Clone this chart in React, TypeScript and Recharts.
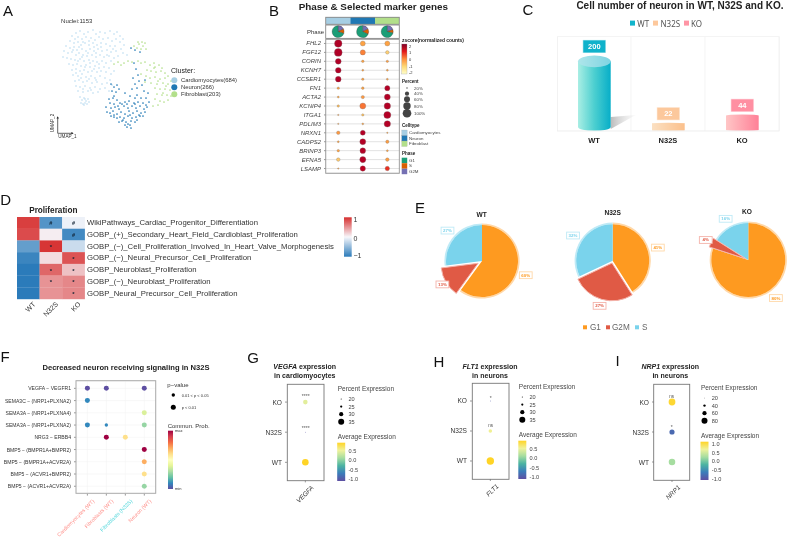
import React from 'react';
import { ScatterChart, Scatter, XAxis, YAxis, ZAxis, CartesianGrid, BarChart, Bar, Cell, PieChart, Pie, LabelList } from 'recharts';

const FONT = '"Liberation Sans", Arial, sans-serif';

// ---------- A: UMAP ----------
const cmPts = [[-2.9,4.2],[-2.5,4.4],[-2.1,4.1],[-1.7,4.3],[-1.2,4.5],[-0.9,4.1],[-0.5,4.3],[0.0,4.2],[0.5,4.4],[0.9,4.1],[1.2,4.3],[1.5,3.9],[1.8,3.6],[-3.3,3.9],[-2.7,3.8],[-2.3,3.6],[-1.9,3.8],[-1.4,3.7],[-1.0,3.5],[-0.6,3.8],[-0.2,3.6],[0.3,3.7],[0.7,3.4],[1.1,3.6],[1.5,3.3],[-3.5,3.4],[-3.1,3.2],[-2.7,3.3],[-2.4,3.0],[-2.0,3.2],[-1.6,3.0],[-1.2,3.2],[-0.8,3.0],[-0.4,3.2],[0.1,3.1],[0.5,2.9],[1.0,2.9],[1.6,2.6],[1.8,2.2],[-3.9,2.9],[-3.5,2.7],[-3.1,2.8],[-2.8,2.5],[-2.3,2.6],[-1.9,2.4],[-1.5,2.6],[-1.1,2.4],[-0.7,2.6],[-0.3,2.4],[0.2,2.5],[0.6,2.3],[1.1,2.4],[-4.1,2.4],[-3.7,2.2],[-3.3,2.3],[-2.9,2.0],[-2.6,2.2],[-2.2,2.0],[-1.8,1.9],[-1.3,2.0],[-0.9,1.8],[-0.5,2.0],[-0.1,1.8],[0.4,1.9],[0.9,1.7],[1.3,1.9],[-4.2,1.8],[-3.8,1.7],[-3.4,1.6],[-3.0,1.5],[-2.5,1.6],[-2.1,1.4],[-1.6,1.5],[-1.2,1.4],[-0.8,1.3],[-0.3,1.4],[0.1,1.2],[0.6,1.4],[-3.6,1.1],[-3.2,1.0],[-2.8,1.1],[-2.4,0.9],[-1.9,1.0],[-1.5,0.8],[-1.0,0.9],[-0.6,0.7],[-0.1,0.8],[0.4,0.7],[-3.3,0.5],[-2.9,0.6],[-2.5,0.4],[-2.1,0.5],[-1.7,0.3],[-1.3,0.4],[-0.8,0.3],[-0.4,0.4],[0.1,0.3],[0.6,0.1],[-3.2,0.0],[-2.7,-0.1],[-2.3,0.1],[-1.9,-0.2],[-1.4,-0.1],[-1.0,-0.3],[-0.5,-0.1],[0.0,-0.3],[0.5,-0.5],[-3.0,-0.6],[-2.6,-0.5],[-2.2,-0.7],[-1.8,-0.6],[-1.3,-0.8],[-0.8,-0.7],[-0.3,-0.9],[0.2,-0.8],[0.7,-1.0],[-2.9,-1.1],[-2.5,-1.2],[-2.0,-1.1],[-1.5,-1.3],[-1.0,-1.2],[-0.5,-1.4],[0.0,-1.3],[0.4,-1.6],[-2.7,-1.6],[-2.2,-1.7],[-1.7,-1.6],[-1.2,-1.8],[-0.7,-1.7],[-2.5,-2.2],[-2.3,-2.5],[-2.1,-2.3],[-1.9,-2.6],[-1.7,-2.4],[-2.4,-2.8],[-2.2,-2.9],[-2.0,-2.8],[-1.8,-2.9],[-1.6,-2.7],[-2.1,-3.0],[-2.0,-2.4],[-3.0,3.6],[-2.2,3.3],[-1.6,3.4],[-1.1,2.8],[-0.4,2.8],[-2.6,2.8],[-3.2,2.5],[-1.7,2.2],[-0.9,2.2],[-2.3,1.8],[-1.5,1.2],[-2.7,1.4],[-2.0,0.8],[-0.6,1.1],[-1.1,0.6],[-2.9,0.2],[-1.6,-0.4],[-2.4,-0.3],[-0.9,-0.5],[-2.2,-1.4],[-1.4,-1.5],[0.2,2.0],[0.8,2.6],[1.9,3.0],[2.2,2.0],[0.9,0.4]];
const nePts = [[2.6,2.7],[3.0,2.5],[3.5,2.3],[2.9,1.2],[3.1,0.6],[3.3,0.0],[2.8,-0.3],[3.0,-0.9],[3.4,-0.6],[2.7,-1.4],[3.2,-1.3],[3.7,-1.0],[3.9,-1.6],[4.3,-1.8],[4.0,-0.5],[0.6,-0.9],[0.9,-1.2],[1.2,-1.0],[0.7,-1.6],[1.1,-1.7],[0.9,-2.1],[1.4,-1.4],[2.0,-1.8],[2.5,-2.1],[3.0,-2.3],[3.6,-2.3],[3.2,-2.0],[4.1,-2.3],[4.4,-2.7],[0.4,-2.4],[0.8,-2.3],[1.2,-2.5],[0.5,-2.8],[0.9,-2.9],[1.5,-2.8],[2.0,-2.7],[2.4,-2.6],[2.9,-2.8],[3.3,-2.7],[3.8,-2.8],[4.1,-3.0],[0.1,-3.2],[0.6,-3.3],[1.0,-3.2],[1.4,-3.4],[1.9,-3.1],[2.3,-3.3],[2.7,-3.1],[3.1,-3.3],[3.5,-3.1],[3.9,-3.4],[4.2,-3.2],[0.2,-3.7],[0.5,-3.8],[0.8,-3.6],[1.2,-3.9],[1.6,-3.7],[2.0,-3.9],[2.4,-3.6],[2.8,-3.8],[3.2,-3.6],[3.6,-3.8],[4.0,-3.7],[0.6,-4.1],[0.9,-4.2],[1.2,-4.3],[1.5,-4.2],[1.9,-4.3],[2.3,-4.1],[2.7,-4.3],[3.1,-4.2],[3.5,-4.1],[3.8,-4.1],[1.4,-4.7],[1.7,-4.6],[2.1,-4.7],[2.6,-4.6],[3.0,-4.7],[2.0,-5.0],[2.2,-5.2],[2.5,-5.0],[2.6,-5.3],[2.3,-4.9],[1.7,-2.9],[2.2,-2.9],[2.5,-4.0],[3.4,-4.0],[3.0,-2.9],[1.3,-3.1],[0.9,-4.0],[1.8,-4.5],[3.2,-4.5]];
const fiPts = [[2.9,2.9],[3.2,2.7],[3.4,3.1],[3.6,2.6],[3.8,2.9],[4.0,3.2],[3.3,3.3],[3.7,3.3],[4.1,2.6],[0.9,1.1],[1.3,1.3],[1.6,1.0],[1.9,1.2],[2.3,1.4],[2.7,1.3],[3.3,1.4],[3.6,1.2],[4.0,1.3],[4.9,1.2],[4.5,1.0],[5.0,0.8],[5.4,1.0],[5.7,0.7],[4.2,0.5],[4.6,0.4],[5.1,0.3],[5.6,0.4],[6.0,0.2],[3.6,0.1],[4.1,-0.1],[4.5,-0.3],[5.0,-0.2],[5.5,-0.4],[6.0,-0.3],[6.3,-0.1],[4.0,-0.7],[4.6,-0.8],[5.2,-0.9],[5.8,-0.8],[6.3,-0.9],[6.6,-0.6],[5.0,-1.3],[5.5,-1.4],[6.0,-1.4],[6.5,-1.5],[6.8,-1.1],[5.2,-1.9],[5.7,-2.0],[6.2,-2.0],[6.6,-2.1],[5.0,-2.4],[5.5,-2.6],[5.9,-2.7],[6.3,-2.5],[5.3,-3.0],[4.8,-3.1],[5.8,-1.8],[4.9,0.7],[5.3,-0.6],[6.1,-1.1]];

// ---------- B: marker gene dot plot ----------
const bClusters = ['Cardiomyocytes', 'Neuron', 'Fibroblast'];
const bGenes = ['FHL2','FGF12','CORIN','KCNH7','CCSER1','FN1','ACTA2','KCNIP4','ITGA1','PDLIM3','NRXN1','CADPS2','BRINP3','EFNA5','LSAMP'];
const bPercent = [[80,46,46],[86,48,32],[56,25,24],[54,22,22],[54,24,22],[24,25,48],[22,30,58],[24,58,64],[20,24,74],[20,22,64],[32,46,20],[22,58,30],[25,54,22],[32,60,32],[20,50,40]];
const bZscore = [[2,-0.4,-0.4],[2,0.1,-1.1],[2,-0.4,-0.3],[2,-0.4,-0.4],[2,-0.4,-0.4],[-0.4,-0.4,1.9],[-0.5,-0.2,1.9],[-0.8,0.2,1.9],[-0.4,-0.9,1.9],[-0.4,-0.4,1.9],[-0.2,1.9,-0.4],[-0.4,1.9,-0.3],[-0.4,1.9,-0.4],[-1,1.9,-0.3],[-0.4,1.6,0.8]];
const phaseNames = ['G2M', 'S', 'G1'];
const phaseByCluster = [[18, 12, 70], [18, 14, 68], [20, 9, 71]];

// ---------- C: cell numbers ----------
const cGroups = ['WT', 'N32S', 'KO'];
const cCounts = [200, 22, 44];

// ---------- D: proliferation heatmap ----------
const dGroups = ['WT', 'N32S', 'KO'];
const dPathways = ['WikiPathways_Cardiac_Progenitor_Differentiation','GOBP_(+)_Secondary_Heart_Field_Cardioblast_Proliferation','GOBP_(\u2212)_Cell_Proliferation_Involved_In_Heart_Valve_Morphogenesis','GOBP_(\u2212)_Neural_Precursor_Cell_Proliferation','GOBP_Neuroblast_Proliferation','GOBP_(\u2212)_Neuroblast_Proliferation','GOBP_Neural_Precursor_Cell_Proliferation'];
const dScores = [[0.92,-0.8,-0.05],[0.86,0.05,-0.88],[-0.72,0.97,-0.22],[-0.92,0.13,0.82],[-1,0.72,0.27],[-1,0.5,0.56],[-1,0.5,0.56]];
const dMarks = [['','#','#'],['','','#'],['','*',''],['','','*'],['','*','*'],['','*','*'],['','','*']];

// ---------- E: phase pies ----------
const ePhases = ['G1', 'G2M', 'S'];
const eWT = [60, 13, 27];
const eN32S = [41, 27, 32];
const eKO = [80, 4, 16];

// ---------- F: signalling ----------
const fSources = ['Cardiomyocytes (WT)', 'Fibroblasts (WT)', 'Fibroblasts (N32S)', 'Neuron (WT)'];
const fPairs = ['VEGFA \u2212 VEGFR1','SEMA3C \u2212 (NRP1+PLXNA2)','SEMA3A \u2212 (NRP1+PLXNA4)','SEMA3A \u2212 (NRP1+PLXNA2)','NRG3 \u2212 ERBB4','BMP5 \u2212 (BMPR1A+BMPR2)','BMP5 \u2212 (BMPR1A+ACVR2A)','BMP5 \u2212 (ACVR1+BMPR2)','BMP5 \u2212 (ACVR1+ACVR2A)'];
const fPairIdx = [0,0,0,1,2,3,3,3,4,4,5,6,7,8];
const fSourceIdx = [0,1,3,0,3,0,1,3,1,2,3,3,3,3];
const fProb = [0,0,0,0.1,0.38,0.1,0.1,0.27,1,0.6,1,0.7,0.6,0.27];
const fPClass = [2,2,2,2,2,2,1,2,2,2,2,2,2,2];

// ---------- G, H, I: expression ----------
const gihGroups = ['KO', 'N32S', 'WT'];
const gPct = [28.8, 20, 38.3];
const gAvg = [0.35, -1.05, 0.8];
const hPct = [20, 25, 43];
const hAvg = [-1, 0.45, 0.8];
const iPct = [98, 65, 93];
const iAvg = [1.05, -0.85, 0.22];
const gSig = ['****', '****', ''];
const hSig = ['*', 'ns', ''];
const iSig = ['ns', '*', ''];

// ---------- colour helpers ----------
const hex = (c: string) => [1, 3, 5].map((i) => parseInt(c.slice(i, i + 2), 16));
const ramp = (stops: string[], t: number) => {
  const v = Math.max(0, Math.min(1, t)) * (stops.length - 1);
  const i = Math.min(stops.length - 2, Math.floor(v));
  const a = hex(stops[i]), b = hex(stops[i + 1]);
  const f = v - i;
  return `rgb(${a.map((x, k) => Math.round(x + (b[k] - x) * f)).join(',')})`;
};
const ylorrd = ['#FFFFCC', '#FED976', '#FD8D3C', '#E31A1C', '#800026'];
const ylorrdDots = ['#FFFFCC', '#FEE08B', '#FDB04A', '#FD8D3C', '#F03B20', '#C8001F', '#B00026'];
const spectral = ['#5E4FA2','#3288BD','#66C2A5','#ABDDA4','#E6F598','#FFFFBF','#FEE08B','#FDAE61','#F46D43','#D53E4F','#9E0142'];
const expr = ['#5E4FA2','#3B7DBA','#4BB3A2','#A6DDA0','#EFF29B','#FFD426'];
const rdbu = ['#2B7BBA','#F7F7FB','#D62F2F'];
const GrA = ({ id, stops, vertical = true }: any) => (
  <linearGradient id={id} x1="0" y1={vertical ? '1' : '0'} x2={vertical ? '0' : '1'} y2="0">
    {stops.map((s: string, i: number) => <stop key={i} offset={i / (stops.length - 1)} stopColor={s} />)}
  </linearGradient>
);

// ---------- generic pieces ----------
const T = ({ x, y, s = 6, b, i, a = 'start', c = '#222', r, f, children }: any) => (
  <text x={x} y={y} fontSize={s} fontWeight={b ? 700 : 400} fontStyle={i ? 'italic' : 'normal'} textAnchor={a} fill={c}
    dominantBaseline="central" fontFamily={f || FONT} transform={r ? `rotate(${r} ${x} ${y})` : undefined}>{children}</text>
);

const Abs = ({ left, top, children }: any) => <div style={{ position: 'absolute', left, top }}>{children}</div>;

const areaDot = (color: (p: any) => string, stroke?: string) => (p: any) => {
  const r = Math.sqrt(Math.max(p.size ?? 4, 0.2) / Math.PI);
  return <circle cx={p.cx} cy={p.cy} r={r} fill={color(p.payload)} stroke={stroke || 'none'} strokeWidth={0.3} />;
};

function Bubble({ box, yW, xH, xD, yD, xN, yN, data, zD, zR, color, stroke, yTick, xTick, grid, tickC = '#555' }: any) {
  const [x0, y0, x1, y1] = box;
  return (
    <Abs left={x0 - yW} top={y0 - 2}>
      <ScatterChart width={x1 - x0 + yW + 2} height={y1 - y0 + xH + 2} margin={{ top: 2, right: 2, bottom: 0, left: 0 }}>
        {grid}
        <XAxis type="number" dataKey="x" domain={xD} ticks={Array.from({ length: xN }, (_, i) => i)} interval={0}
          height={xH} tick={xTick} tickSize={2} tickLine={{ stroke: tickC, strokeWidth: 0.6 }} axisLine={false} allowDataOverflow />
        <YAxis type="number" dataKey="y" domain={yD} ticks={Array.from({ length: yN }, (_, i) => i)} interval={0} reversed
          width={yW} tick={yTick} tickSize={2} tickLine={{ stroke: tickC, strokeWidth: 0.6 }} axisLine={false} allowDataOverflow />
        <ZAxis type="number" dataKey="z" domain={zD} range={zR} />
        <Scatter data={data} isAnimationActive={false} shape={areaDot(color, stroke)} />
      </ScatterChart>
    </Abs>
  );
}

const leftTick = (labels: string[], opts: any = {}) => (p: any) => (
  <text x={p.x - 1} y={p.y} textAnchor="end" dominantBaseline="central" fontSize={opts.s || 6} fontStyle={opts.i ? 'italic' : 'normal'}
    fontFamily={FONT} fill={opts.c || '#333'}>{labels[p.payload.value]}</text>
);
const slantTick = (labels: string[], opts: any = {}) => (p: any) => {
  const x = p.x + (opts.dx ?? 4), y = p.y + (opts.dy ?? 2);
  const i = p.payload.value;
  return (
    <text x={x} y={y} textAnchor="end" dominantBaseline="central" fontSize={opts.s || 6.3} fontStyle={opts.i ? 'italic' : 'normal'}
      fontFamily={FONT} fill={opts.colors ? opts.colors[i] : opts.c || '#333'} transform={`rotate(-45 ${x} ${y})`}>{labels[i]}</text>
  );
};

// ---------- A ----------
const pts = (a: number[][]) => a.map(([x, y]) => ({ x, y }));
const umapDot = (fill: string, r: number) => (p: any) => <circle cx={p.cx} cy={p.cy} r={r} fill={fill} />;
const PanelA = () => (
  <Abs left={0} top={0}>
    <ScatterChart width={230} height={180} margin={{ top: 0, right: 0, bottom: 0, left: 0 }}>
      <XAxis type="number" dataKey="x" domain={[-10.5, 12.5]} hide />
      <YAxis type="number" dataKey="y" domain={[-10.5, 7.5]} hide />
      <Scatter data={pts(cmPts)} isAnimationActive={false} shape={umapDot('#B3D8EE', 0.8)} />
      <Scatter data={pts(nePts)} isAnimationActive={false} shape={umapDot('#1F78B4', 0.85)} />
      <Scatter data={pts(fiPts)} isAnimationActive={false} shape={umapDot('#B2DF8A', 0.85)} />
    </ScatterChart>
  </Abs>
);

// ---------- B ----------
const bData = bGenes.flatMap((_, r) => bClusters.map((__, c) => ({ x: c, y: r, z: bPercent[r][c], v: bZscore[r][c] })));
const clusterColors = ['#A6CEE3', '#1F78B4', '#B2DF8A'];
const phaseColors = ['#7570B3', '#D95F02', '#1B9E77'];
const PanelB = () => (
  <>
    <Abs left={325.7} top={17.3}>
      <BarChart width={73.6} height={7} data={bClusters.map((name) => ({ name, n: 1 }))} margin={{ top: 0, right: 0, bottom: 0, left: 0 }} barCategoryGap={0}>
        <XAxis dataKey="name" hide />
        <YAxis hide domain={[0, 1]} />
        <Bar dataKey="n" isAnimationActive={false}>
          {bClusters.map((_, i) => <Cell key={i} fill={clusterColors[i]} />)}
        </Bar>
      </BarChart>
    </Abs>
    <Abs left={325.7} top={25}>
      <PieChart width={73.6} height={13} margin={{ top: 0, right: 0, bottom: 0, left: 0 }}>
        {phaseByCluster.map((vals, c) => (
          <Pie key={c} data={vals.map((v, i) => ({ name: phaseNames[i], v }))} dataKey="v" cx={12.1 + 24.55 * c} cy={6.6} outerRadius={6}
            startAngle={90} endAngle={-270} stroke="#333" strokeWidth={0.3} isAnimationActive={false} label={false}>
            {vals.map((_, i) => <Cell key={i} fill={phaseColors[i]} />)}
          </Pie>
        ))}
      </PieChart>
    </Abs>
    <Bubble box={[325.7, 39.3, 399.3, 173.3]} yW={52} xH={4} xD={[-0.5, 2.5]} yD={[-0.5, 14.5]} xN={3} yN={15}
      data={bData} zD={[20, 100]} zR={[1.5, 58]} color={(d: any) => ramp(ylorrdDots, (d.v + 2) / 4)} stroke="#777"
      yTick={leftTick(bGenes, { i: true, s: 6, c: '#444' })} xTick={false}
      grid={<>
        <CartesianGrid horizontal stroke="#E2E2E2" strokeWidth={1} vertical={false} />
        <CartesianGrid vertical stroke="#D0D0D0" strokeWidth={0.4} horizontal={false} />
      </>} />
  </>
);

// ---------- C ----------
const cFill = ['url(#cWT)', 'url(#cN)', 'url(#cK)'];
const cBox = ['#0FB2CB', '#FCC89C', '#FF8FA2'];
const cTop = ['url(#cWTt)', 'url(#cN)', 'url(#cK)'];
const Cyl = (p: any) => {
  const { x, y, width: w, height: h, index } = p;
  const base = y + h;
  const ry = h * 0.085, rb = Math.min(4, h * 0.06), rx = w / 2;
  return (
    <g>
      {index === 0 && <path d={`M${x + w} ${base - 14} L${x + w + 25} ${base - 16} L${x + w} ${base - 2} Z`} fill="url(#cShadow)" />}
      <path d={`M${x} ${y} L${x} ${base - rb} A${rx} ${rb} 0 0 0 ${x + w} ${base - rb} L${x + w} ${y} Z`} fill={cFill[index]} />
      <ellipse cx={x + rx} cy={y} rx={rx} ry={ry} fill={cTop[index]} />
    </g>
  );
};
const CLabel = (p: any) => {
  const { x, y, width: w, value, index, height } = p;
  const ry = Math.abs(height) * 0.085;
  const cy = y - 9 - ry, cx = x + w / 2;
  return (
    <g>
      <rect x={cx - 11.5} y={cy - 6.5} width={23} height={13} fill={cBox[index]} stroke="#fff" strokeOpacity={0.6} strokeWidth={1} />
      <text x={cx} y={cy} textAnchor="middle" dominantBaseline="central" fill="#fff" fontWeight={700} fontSize={7.5} fontFamily={FONT}>{value}</text>
    </g>
  );
};
const PanelC = () => (
  <Abs left={557.3} top={36.7}>
    <BarChart width={222} height={115} data={cGroups.map((name, i) => ({ name, n: cCounts[i] }))} margin={{ top: 0, right: 0, bottom: 0, left: 0 }}>
      <CartesianGrid horizontal={false} stroke="#EFEFEF" strokeWidth={0.7}
        verticalCoordinatesGenerator={({ offset }: any) => [0, 1, 2, 3].map((k) => offset.left + (k * offset.width) / 3)} />
      <XAxis dataKey="name" height={21} axisLine={{ stroke: '#EFEFEF', strokeWidth: 0.7 }} tickLine={false}
        tick={{ fontSize: 7.5, fontWeight: 700, fill: '#222', fontFamily: FONT }} tickMargin={1} />
      <YAxis hide domain={[0, 270]} />
      <Bar dataKey="n" barSize={32.7} isAnimationActive={false} shape={Cyl}>
        <LabelList dataKey="n" content={CLabel} />
      </Bar>
    </BarChart>
  </Abs>
);

// ---------- D ----------
const dData = dPathways.flatMap((_, r) => dGroups.map((__, c) => ({ x: c, y: r, s: dScores[r][c], m: dMarks[r][c] })));
const HCell = (p: any) => {
  const w = 22.55, h = 11.72;
  const { cx, cy, payload } = p;
  return (
    <g>
      <rect x={cx - w / 2} y={cy - h / 2} width={w + 0.2} height={h + 0.2} fill={ramp(rdbu, (payload.s + 1) / 2)} />
      {payload.m && <text x={cx} y={cy + (payload.m === '*' ? 0.8 : 0)} textAnchor="middle" dominantBaseline="central" fontSize={payload.m === '*' ? 6 : 5.5} fontWeight={700}
        fontFamily={FONT} fill="#123">{payload.m}</text>}
    </g>
  );
};
const PanelD = () => (
  <Abs left={17.3} top={217.3}>
    <ScatterChart width={326.7} height={112} margin={{ top: 0, right: 0, bottom: 0, left: 0 }}>
      <XAxis type="number" dataKey="x" domain={[-0.5, 2.5]} ticks={[0, 1, 2]} interval={0} height={30} tickLine={false} axisLine={false}
        tick={slantTick(dGroups, { s: 7, dx: 6, dy: -4, c: '#333' })} />
      <YAxis type="number" dataKey="y" orientation="right" domain={[-0.5, 6.5]} ticks={[0, 1, 2, 3, 4, 5, 6]} interval={0} reversed width={259} tickLine={false} axisLine={false}
        tick={(p: any) => <text x={p.x - 5.7} y={p.y} dominantBaseline="central" fontSize={7.75} fontFamily={FONT} fill="#333">{dPathways[p.payload.value]}</text>} />
      <Scatter data={dData} isAnimationActive={false} shape={HCell} />
    </ScatterChart>
  </Abs>
);

// ---------- E ----------
const eColors = ['#FE9A20', '#E05A45', '#7AD3EC'];
const eBorder = ['#FFD8A8', '#F4B3AA', '#BFEAF6'];
const eBoxLabel = (R: number, skip: number | null) => (p: any) => {
  if (skip !== null && p.index === skip) return <g />;
  const a = (p.midAngle * Math.PI) / 180;
  const x = p.cx + Math.cos(a) * R, y = p.cy - Math.sin(a) * R;
  const idx = p.payload?.idx ?? p.index;
  return (
    <g>
      <rect x={x - 6.4} y={y - 3.4} width={12.8} height={6.8} fill="#fff" stroke={eBorder[idx]} strokeWidth={0.9} />
      <text x={x} y={y} textAnchor="middle" dominantBaseline="central" fontSize={4.4} fontWeight={700} fill={eColors[idx]} fontFamily={FONT}>{p.value}%</text>
    </g>
  );
};
function EPie({ left, top, cx, cy, r, vals, off, R }: any) {
  const total = vals[0] + vals[1] + vals[2];
  const s = 90 - (vals[0] / total) * 360, e = s - (vals[1] / total) * 360;
  const mid = (((s + e) / 2) * Math.PI) / 180;
  const dx = Math.cos(mid) * off, dy = -Math.sin(mid) * off;
  const data = ePhases.map((name, idx) => ({ name, v: vals[idx], idx }));
  const g2m = [data[1]];
  return (
    <Abs left={left} top={top}>
      <PieChart width={136} height={110} margin={{ top: 0, right: 0, bottom: 0, left: 0 }}>
        <Pie data={data} dataKey="v" cx={cx} cy={cy} innerRadius={r} outerRadius={r + 1.6} startAngle={90} endAngle={-270} stroke="none" isAnimationActive={false} label={false} labelLine={false}>
          {data.map((_, i) => <Cell key={i} fill={i === 1 ? 'transparent' : eBorder[i]} />)}
        </Pie>
        <Pie data={data} dataKey="v" cx={cx} cy={cy} outerRadius={r} startAngle={90} endAngle={-270} stroke="none" isAnimationActive={false} labelLine={false} label={eBoxLabel(R, 1)}>
          {data.map((_, i) => <Cell key={i} fill={i === 1 ? 'transparent' : eColors[i]} />)}
        </Pie>
        <Pie data={g2m} dataKey="v" cx={cx + dx} cy={cy + dy} outerRadius={r + 1.2} startAngle={s} endAngle={e} stroke={eBorder[1]} strokeWidth={1} isAnimationActive={false} labelLine={false} label={eBoxLabel(R - off, null)}>
          <Cell fill={eColors[1]} />
        </Pie>
      </PieChart>
    </Abs>
  );
}

// ---------- F ----------
const fData = fProb.map((v, i) => ({ x: fSourceIdx[i], y: fPairIdx[i], z: fPClass[i], v }));
const fTickColors = ['#FF8E88', '#FF8E88', '#4FD6DA', '#FF8E88'];

// ---------- G/H/I ----------
const exprData = (pct: number[], avg: number[]) => gihGroups.map((_, i) => ({ x: 0, y: i, z: pct[i], v: avg[i] }));
const Expr = ({ box, gene, pct, avg, zD, zR, cD }: any) => (
  <Bubble box={box} yW={34} xH={34} xD={[-0.5, 0.5]} yD={[-0.6, 2.6]} xN={1} yN={3} data={exprData(pct, avg)} zD={zD} zR={zR}
    color={(d: any) => ramp(expr, (d.v - cD[0]) / (cD[1] - cD[0]))}
    yTick={leftTick(gihGroups, { s: 6.6, c: '#333' })} xTick={slantTick([gene], { s: 6.5, i: true, dx: 7, dy: 2, c: '#333' })} />
);
const ExprLegend = ({ x, y, sizes, ticks }: any) => (
  <g>
    <T x={x} y={y} s={6.5} c="#444">Percent Expression</T>
    {sizes.map(([lab, r]: any, i: number) => (
      <g key={lab}>
        <circle cx={x + 3.5} cy={y + 10.7 + i * 7.6} r={r} fill="#000" />
        <T x={x + 10.7} y={y + 10.7 + i * 7.6} s={5.6} c="#444">{lab}</T>
      </g>
    ))}
    <T x={x} y={y + 47.7} s={6.5} c="#444">Average Expression</T>
    <rect x={x - 0.5} y={y + 54.4} width={8} height={38.3} fill="url(#exprBar)" />
    {ticks.map(([lab, dy]: any) => <T key={lab} x={x + 10.8} y={y + dy} s={5.6} c="#444">{lab}</T>)}
  </g>
);
const Sig = ({ x, items }: any) => <>{items.map(([s, y]: any, i: number) => <T key={i} x={x} y={y} s={s === 'ns' ? 4.6 : 5} a="middle" c="#555">{s}</T>)}</>;

const Frame = ({ b, c = '#777', w = 0.9 }: any) => <rect x={b[0]} y={b[1]} width={b[2] - b[0]} height={b[3] - b[1]} fill="none" stroke={c} strokeWidth={w} />;
const Key = ({ x, y, c, s = 3 }: any) => <rect x={x} y={y} width={s} height={s} fill={c} />;

export default function App() {
  return (
    <div style={{ position: 'absolute', left: 0, top: 0, width: 789, height: 537, overflow: 'hidden', background: '#fff', fontFamily: FONT, filter: 'blur(0.35px)' }}>
      <PanelA />
      <PanelB />
      <PanelC />
      <PanelD />
      <EPie left={420} top={205} cx={62} cy={56} r={36} vals={eWT} off={4.5} R={46} />
      <EPie left={550} top={205} cx={62.7} cy={55.7} r={36.5} vals={eN32S} off={2.5} R={47} />
      <EPie left={653} top={205} cx={95.3} cy={55} r={37} vals={eKO} off={3} R={47} />
      <Bubble box={[76, 380.7, 155.7, 493.3]} yW={76} xH={43.5} xD={[-0.6, 3.6]} yD={[-0.6, 8.6]} xN={4} yN={9} data={fData} zD={[1, 2]} zR={[9, 19.6]}
        color={(d: any) => ramp(spectral, d.v)} yTick={leftTick(fPairs, { s: 5.1, c: '#333' })}
        xTick={slantTick(fSources, { s: 5.2, dx: 6, dy: 2.5, colors: fTickColors })}
        grid={<CartesianGrid stroke="#F1F1F1" strokeWidth={0.5} />} />
      <Expr box={[287.3, 384.3, 324, 480.7]} gene="VEGFA" pct={gPct} avg={gAvg} zD={[20, 38.3]} zR={[0.5, 34]} cD={[-1.1, 0.8]} />
      <Expr box={[472.3, 383.3, 509, 479.3]} gene="FLT1" pct={hPct} avg={hAvg} zD={[20, 43]} zR={[0.5, 43]} cD={[-1.1, 0.8]} />
      <Expr box={[653.7, 384.3, 689.7, 480.3]} gene="NRP1" pct={iPct} avg={iAvg} zD={[20, 98]} zR={[0.3, 36]} cD={[-1.1, 1.1]} />

      <svg width={789} height={537} style={{ position: 'absolute', left: 0, top: 0, pointerEvents: 'none' }}>
        <defs>
          <GrA id="cWT" vertical={false} stops={['#A9EEE4', '#4CCFD0', '#07AEC8']} />
          <GrA id="cWTt" vertical={false} stops={['#AEE6EA', '#7FD4E2']} />
          <GrA id="cN" vertical={false} stops={['#FBE0C2', '#FBC08C']} />
          <GrA id="cK" vertical={false} stops={['#FFC6C6', '#FF8097']} />
          <linearGradient id="cShadow" x1="0" y1="0" x2="1" y2="0"><stop offset="0" stopColor="#BBB" /><stop offset="1" stopColor="#EEE" stopOpacity={0.3} /></linearGradient>
          <GrA id="zBar" stops={ylorrd} />
          <GrA id="dBar" stops={rdbu} />
          <GrA id="fBar" stops={spectral} />
          <GrA id="exprBar" stops={expr} />
        </defs>

        {/* letters */}
        {[['A', 8, 10], ['B', 274, 10.7], ['C', 528, 9.3], ['D', 5.7, 199.3], ['E', 420, 207.3], ['F', 5, 356.7], ['G', 253, 357], ['H', 439, 361], ['I', 617.7, 360.7]].map(([l, x, y]: any) =>
          <T key={l} x={x} y={y} s={15} a="middle" c="#111">{l}</T>)}

        {/* A */}
        <T x={76.7} y={20.7} s={6} a="middle" c="#333">Nuclei:1153</T>
        <T x={171} y={70.7} s={7} c="#222">Cluster:</T>
        {['Cardiomyocytes(684)', 'Neuron(266)', 'Fibroblast(203)'].map((t, i) => (
          <g key={t}>
            <circle cx={174.3} cy={80.3 + i * 7} r={3} fill={['#A6CEE3', '#1F78B4', '#B2DF8A'][i]} />
            <T x={181} y={80.3 + i * 7} s={5.9} c="#333">{t}</T>
          </g>
        ))}
        <path d="M57.7 133.3V117.5M57.7 133.3H72.5" stroke="#222" strokeWidth={0.7} fill="none" />
        <path d="M57.7 116.2l-1.2 2.2h2.4zM73.6 133.3l-2.2-1.2v2.4z" fill="#222" />
        <T x={67.5} y={136.3} s={4.6} a="middle" c="#333">UMAP_1</T>
        <T x={52.7} y={123} s={4.6} a="middle" c="#333" r={-90}>UMAP_2</T>

        {/* B */}
        <T x={373.3} y={6.7} s={9.9} b a="middle" c="#222">Phase &amp; Selected marker genes</T>
        <Frame b={[325.7, 17.3, 399.3, 24.3]} c="#888" />
        <Frame b={[325.7, 25, 399.3, 38.4]} c="#888" />
        <Frame b={[325.7, 39.3, 399.3, 173.3]} c="#999" />
        <T x={324} y={31.7} s={6} a="end" c="#333">Phase</T>
        <T x={402} y={40} s={4.9} b c="#222">zscore(normalized counts)</T>
        <rect x={401.7} y={44} width={5.3} height={30} fill="url(#zBar)" stroke="#999" strokeWidth={0.3} />
        {[['2', 46], ['1', 52.7], ['0', 59.3], ['-1', 66], ['-2', 72.7]].map(([l, y]: any) => <T key={l} x={409} y={y} s={4} c="#333">{l}</T>)}
        <T x={402} y={81} s={4.5} b c="#222">Percent</T>
        {[['20%', 88, 0.7], ['40%', 93.7, 2.1], ['60%', 99.3, 3], ['80%', 106, 3.7], ['100%', 113.3, 4.3]].map(([l, y, r]: any) => (
          <g key={l}>
            <circle cx={407} cy={y} r={r} fill="#444" />
            <T x={414} y={y} s={4.4} c="#444">{l}</T>
          </g>
        ))}
        <T x={402} y={125} s={4.5} b c="#222">Celltype</T>
        {bClusters.map((t, i) => (
          <g key={t}>
            <rect x={401.7} y={130 + i * 5.5} width={5.5} height={5.5} fill={clusterColors[i]} stroke="#999" strokeWidth={0.2} />
            <T x={409} y={132.7 + i * 5.5} s={4.4} c="#444">{t}</T>
          </g>
        ))}
        <T x={402} y={153} s={4.5} b c="#222">Phase</T>
        {['G1', 'S', 'G2M'].map((t, i) => (
          <g key={t}>
            <rect x={401.7} y={157.7 + i * 5.5} width={5.5} height={5.5} fill={['#1B9E77', '#D95F02', '#7570B3'][i]} />
            <T x={409} y={160.5 + i * 5.4} s={4.4} c="#444">{t}</T>
          </g>
        ))}

        {/* C */}
        <T x={680} y={5} s={10} b a="middle" c="#222">Cell number of neuron in WT, N32S and KO.</T>
        <Key x={630} y={20.6} c="#12B4CB" s={5} />
        <T x={637.3} y={23} s={8} c="#555" f='"Noto Sans"'>WT</T>
        <Key x={653} y={20.6} c="#FDC89C" s={5} />
        <T x={660.5} y={23} s={8} c="#555" f='"Noto Sans"'>N32S</T>
        <Key x={684} y={20.6} c="#FF95A5" s={5} />
        <T x={691} y={23} s={8} c="#555" f='"Noto Sans"'>KO</T>
        <rect x={557.3} y={36.7} width={222} height={94.3} fill="none" stroke="#EFEFEF" strokeWidth={0.7} />

        {/* D */}
        <T x={53.3} y={210.7} s={8.2} b a="middle" c="#222">Proliferation</T>
        <rect x={344} y={217.3} width={7.7} height={39.4} fill="url(#dBar)" />
        <T x={353.5} y={219} s={7} c="#333">1</T>
        <T x={353.5} y={238.3} s={7} c="#333">0</T>
        <T x={353.5} y={255.7} s={7} c="#333">{'\u22121'}</T>

        {/* E */}
        <T x={481.7} y={214.3} s={6.6} b a="middle" c="#222">WT</T>
        <T x={612.7} y={212.7} s={6.6} b a="middle" c="#222">N32S</T>
        <T x={747} y={211.7} s={6.6} b a="middle" c="#222">KO</T>
        {[['G1', 583, 590], ['G2M', 606, 612], ['S', 635, 642]].map(([l, kx, x]: any, i) => (
          <g key={l}>
            <Key x={kx} y={325.3} c={eColors[i]} s={4} />
            <T x={x} y={327.3} s={8.2} c="#666">{l}</T>
          </g>
        ))}

        {/* F */}
        <T x={126} y={367.7} s={7.6} b a="middle" c="#222">Decreased neuron receiving signaling in N32S</T>
        <Frame b={[76, 380.7, 155.7, 493.3]} c="#AAA" w={1} />
        <T x={167.3} y={384.7} s={6} c="#333">p−value</T>
        <circle cx={173.3} cy={395} r={1.7} fill="#000" />
        <T x={181.7} y={395} s={4} c="#333">0.01 &lt; p &lt; 0.05</T>
        <circle cx={173.3} cy={407.3} r={2.5} fill="#000" />
        <T x={181.7} y={407.3} s={4} c="#333">p &lt; 0.01</T>
        <T x={167.7} y={425.7} s={6} c="#333">Commun. Prob.</T>
        <rect x={168} y={430.7} width={5} height={58.3} fill="url(#fBar)" />
        <T x={175} y={430.7} s={4} c="#333">max</T>
        <T x={175} y={488.5} s={4} c="#333">min</T>

        {/* G */}
        <text x={304.7} y={366} fontSize={7} fontWeight={700} textAnchor="middle" dominantBaseline="central" fill="#222" fontFamily={FONT}><tspan fontStyle="italic">VEGFA</tspan> expression</text>
        <T x={304.7} y={375} s={7} b a="middle" c="#222">in cardiomyocytes</T>
        <Frame b={[287.3, 384.3, 324, 480.7]} />
        <Sig x={305.7} items={[[gSig[0], 396], [gSig[1], 428.2]]} />
        <ExprLegend x={337.7} y={388.3} sizes={[[20, 0.5], [25, 1.1], [30, 2.1], [35, 3]]}
          ticks={[['0.5', 62.4], ['0.0', 72], ['-0.5', 81.4], ['-1.0', 91]]} />

        {/* H */}
        <text x={490} y={366} fontSize={7} fontWeight={700} textAnchor="middle" dominantBaseline="central" fill="#222" fontFamily={FONT}><tspan fontStyle="italic">FLT1</tspan> expression</text>
        <T x={490} y={375} s={7} b a="middle" c="#222">in neurons</T>
        <Frame b={[472.3, 383.3, 509, 479.3]} />
        <Sig x={490.7} items={[[hSig[0], 397.5], [hSig[1], 425.7]]} />
        <ExprLegend x={518.8} y={386.3} sizes={[[20, 0.5], [25, 1.1], [30, 2.1], [35, 3]]}
          ticks={[['0.5', 62.4], ['0.0', 72], ['-0.5', 81.4], ['-1.0', 91]]} />

        {/* I */}
        <text x={670.3} y={366} fontSize={7} fontWeight={700} textAnchor="middle" dominantBaseline="central" fill="#222" fontFamily={FONT}><tspan fontStyle="italic">NRP1</tspan> expression</text>
        <T x={670.3} y={375} s={7} b a="middle" c="#222">in neurons</T>
        <Frame b={[653.7, 384.3, 689.7, 480.3]} />
        <Sig x={671.7} items={[[iSig[0], 396], [iSig[1], 427]]} />
        <ExprLegend x={701} y={387.3} sizes={[[20, 0.3], [40, 1.2], [60, 2.1], [80, 3]]}
          ticks={[['1.0', 56.4], ['0.5', 65.4], ['0.0', 74], ['-0.5', 82.7], ['-1.0', 91.4]]} />
      </svg>
    </div>
  );
}
